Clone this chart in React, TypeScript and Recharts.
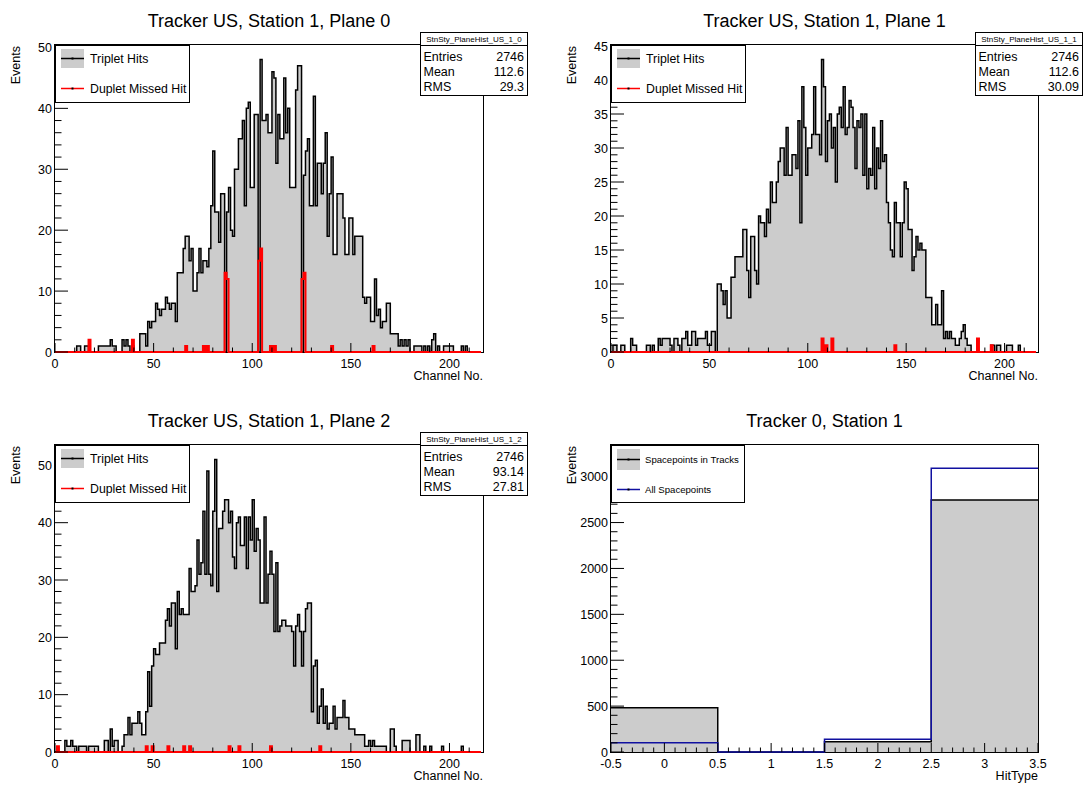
import React from "react";
import { ComposedChart, Area, Line, XAxis, YAxis } from "recharts";

const FONT = '"Liberation Sans", Arial, Helvetica, sans-serif';

// ---------------- DATA ----------------
// Channel numbers (bin low edges) 0..215
const N_CHANNELS = 216;
const CHANNEL_MAX = 217;

// Tracker US, Station 1, Plane 0 — triplet hits per channel
const PLANE0_TRIPLET = [
  0, 0, 0, 0, 0, 0, 0, 0, 0, 0,
  0, 1, 1, 0, 0, 1, 1, 0, 0, 0,
  0, 0, 1, 1, 1, 1, 1, 1, 2, 1,
  1, 0, 0, 0, 2, 1, 2, 1, 0, 1,
  0, 0, 0, 3, 3, 3, 1, 5, 4, 5,
  5, 8, 7, 6, 7, 7, 9, 8, 7, 8,
  8, 5, 13, 13, 13, 17, 19, 19, 15, 17,
  10, 10, 13, 17, 13, 15, 15, 14, 17, 24,
  33, 23, 23, 18, 26, 26, 0, 23, 27, 20,
  19, 30, 30, 35, 35, 38, 24, 40, 41, 27,
  27, 39, 39, 0, 48, 38, 38, 39, 36, 36,
  46, 45, 31, 39, 35, 35, 45, 36, 40, 27,
  27, 27, 43, 47, 47, 0, 29, 33, 35, 24,
  24, 42, 24, 31, 31, 26, 31, 36, 19, 26,
  32, 16, 16, 26, 26, 26, 22, 16, 16, 22,
  22, 16, 19, 19, 19, 19, 9, 8, 9, 9,
  5, 5, 12, 6, 7, 4, 5, 5, 8, 8,
  3, 3, 3, 3, 1, 2, 1, 2, 1, 2,
  0, 0, 1, 1, 1, 1, 0, 1, 0, 1,
  0, 2, 3, 0, 1, 0, 0, 1, 1, 1,
  1, 1, 0, 0, 0, 0, 1, 0, 1, 0,
  0, 0, 0, 0, 0, 0,
];
const PLANE0_DUPLET_CH = [17, 39, 66, 75, 77, 86, 87, 103, 104, 109, 111, 125, 126, 140, 161];
const PLANE0_DUPLET_N = [2, 2, 1, 1, 1, 13, 12, 15, 17, 1, 1, 12, 13, 1, 1];

// Tracker US, Station 1, Plane 1
const PLANE1_TRIPLET = [
  0, 1, 1, 0, 0, 1, 1, 0, 0, 0,
  2, 1, 1, 0, 0, 0, 0, 0, 1, 1,
  0, 1, 0, 0, 2, 1, 2, 2, 2, 2,
  1, 0, 2, 2, 1, 0, 2, 2, 3, 1,
  1, 3, 3, 1, 2, 2, 2, 2, 3, 1,
  1, 3, 3, 0, 10, 10, 9, 7, 9, 5,
  5, 11, 11, 14, 14, 14, 14, 18, 18, 12,
  8, 17, 17, 12, 10, 20, 19, 19, 17, 21,
  19, 25, 22, 22, 25, 28, 30, 30, 26, 33,
  26, 26, 29, 29, 27, 34, 19, 39, 33, 26,
  30, 30, 32, 39, 32, 32, 29, 43, 39, 28,
  34, 35, 30, 33, 25, 35, 36, 33, 39, 32,
  33, 37, 36, 33, 27, 34, 33, 35, 26, 35,
  24, 27, 26, 33, 24, 30, 27, 34, 28, 29,
  22, 19, 15, 14, 22, 19, 19, 14, 19, 25,
  24, 18, 18, 12, 14, 17, 15, 16, 15, 15,
  8, 8, 8, 4, 4, 7, 4, 4, 9, 2,
  3, 2, 3, 2, 2, 1, 1, 2, 3, 4,
  2, 1, 1, 0, 0, 0, 0, 0, 0, 0,
  0, 0, 0, 1, 1, 0, 1, 1, 0, 0,
  0, 1, 1, 1, 0, 0, 0, 1, 0, 0,
  0, 0, 0, 0, 0, 0,
];
const PLANE1_DUPLET_CH = [107, 109, 112, 144, 186, 193];
const PLANE1_DUPLET_N = [2, 1, 2, 1, 2, 1];

// Tracker US, Station 1, Plane 2
const PLANE2_TRIPLET = [
  0, 0, 0, 0, 0, 2, 1, 1, 2, 1,
  1, 0, 1, 1, 1, 1, 0, 1, 1, 1,
  1, 1, 0, 0, 0, 2, 2, 0, 4, 1,
  2, 2, 0, 0, 1, 3, 3, 6, 3, 5,
  5, 5, 7, 5, 3, 3, 7, 14, 8, 15,
  18, 17, 17, 19, 19, 19, 23, 25, 22, 26,
  26, 18, 28, 24, 25, 24, 24, 24, 32, 28,
  28, 29, 37, 31, 33, 42, 31, 49, 31, 29,
  42, 51, 28, 39, 39, 42, 44, 44, 40, 42,
  34, 32, 40, 41, 36, 36, 41, 32, 41, 37,
  44, 35, 39, 37, 26, 26, 41, 26, 31, 35,
  31, 21, 33, 21, 22, 23, 23, 22, 22, 22,
  21, 15, 22, 24, 21, 15, 21, 25, 26, 26,
  7, 15, 16, 5, 8, 11, 5, 8, 4, 5,
  5, 8, 4, 6, 6, 6, 9, 6, 6, 4,
  4, 4, 3, 3, 3, 3, 3, 1, 1, 2,
  1, 2, 1, 1, 1, 1, 1, 1, 0, 0,
  4, 4, 1, 0, 0, 0, 2, 2, 2, 2,
  0, 0, 0, 3, 3, 0, 0, 1, 0, 0,
  1, 0, 0, 0, 0, 0, 1, 0, 0, 0,
  0, 0, 0, 0, 0, 0, 1, 0, 0, 0,
  0, 0, 0, 0, 0, 0,
];
const PLANE2_DUPLET_CH = [1, 46, 49, 57, 65, 68, 88, 93, 109, 134];
const PLANE2_DUPLET_N = [1, 1, 1, 1, 1, 1, 1, 1, 1, 1];

// Tracker 0, Station 1 — HitType histogram (bins centred on 0,1,2,3)
const HITTYPE_EDGES = [-0.5, 0.5, 1.5, 2.5];
const HITTYPE_UPPER = 3.5;
const SP_IN_TRACKS = [483, 0, 113, 2747];
const SP_ALL = [102, 0, 138, 3091];

// stats boxes
const STATS_NAMES = ["StnSty_PlaneHist_US_1_0", "StnSty_PlaneHist_US_1_1", "StnSty_PlaneHist_US_1_2"];
const STATS_ENTRIES = ["2746", "2746", "2746"];
const STATS_MEAN = ["112.6", "112.6", "93.14"];
const STATS_RMS = ["29.3", "30.09", "27.81"];
const TITLES = [
  "Tracker US, Station 1, Plane 0",
  "Tracker US, Station 1, Plane 1",
  "Tracker US, Station 1, Plane 2",
  "Tracker 0, Station 1",
];

// ticks
const CH_TICKS_MAJOR = [0, 50, 100, 150, 200];
const CH_TICKS_ALL = [0, 10, 20, 30, 40, 50, 60, 70, 80, 90, 100, 110, 120, 130, 140, 150, 160, 170, 180, 190, 200, 210];
const Y0_MAJOR = [0, 10, 20, 30, 40, 50];
const Y1_MAJOR = [0, 5, 10, 15, 20, 25, 30, 35, 40, 45];
const Y2_MAJOR = [0, 10, 20, 30, 40, 50];
const HT_X_MAJOR = [-0.5, 0, 0.5, 1, 1.5, 2, 2.5, 3, 3.5];
const HT_Y_MAJOR = [0, 500, 1000, 1500, 2000, 2500, 3000];

function steps(from: number, to: number, step: number, scale = 1): number[] {
  const out: number[] = [];
  for (let i = Math.round(from * scale); i <= Math.round(to * scale); i += Math.round(step * scale)) out.push(i / scale);
  return out;
}
const Y0_ALL = steps(0, 50, 2);
const Y1_ALL = steps(0, 45, 1);
const Y2_ALL = steps(0, 52, 2);
const HT_X_ALL = steps(-0.5, 3.5, 0.1, 10);
const HT_Y_ALL = steps(0, 3300, 100);

// ---------------- helpers ----------------
function sparseToFull(ch: number[], n: number[]): number[] {
  const out = new Array(N_CHANNELS).fill(0);
  ch.forEach((c, i) => {
    out[c] = n[i];
  });
  return out;
}

function buildRows(edges: number[], upper: number, series: Record<string, number[]>) {
  const rows: any[] = edges.map((x, i) => {
    const r: any = { x };
    for (const k of Object.keys(series)) r[k] = series[k][i];
    return r;
  });
  const last: any = { x: upper };
  for (const k of Object.keys(series)) last[k] = series[k][series[k].length - 1];
  rows.push(last);
  return rows;
}

const CH_EDGES = PLANE0_TRIPLET.map((_, i) => i);
const ROWS_P0 = buildRows(CH_EDGES, N_CHANNELS, { t: PLANE0_TRIPLET, d: sparseToFull(PLANE0_DUPLET_CH, PLANE0_DUPLET_N) });
const ROWS_P1 = buildRows(CH_EDGES, N_CHANNELS, { t: PLANE1_TRIPLET, d: sparseToFull(PLANE1_DUPLET_CH, PLANE1_DUPLET_N) });
const ROWS_P2 = buildRows(CH_EDGES, N_CHANNELS, { t: PLANE2_TRIPLET, d: sparseToFull(PLANE2_DUPLET_CH, PLANE2_DUPLET_N) });
const ROWS_HT = buildRows(HITTYPE_EDGES, HITTYPE_UPPER, { t: SP_IN_TRACKS, a: SP_ALL });

const isMajor = (v: number, majors: number[]) => majors.some((m) => Math.abs(m - v) < 1e-6);
const fmtNum = (v: number) => String(Number(v.toFixed(2)));

function makeXTick(majors: number[]) {
  return (props: any) => {
    const { x, y, payload } = props;
    const v = payload.value;
    const major = isMajor(v, majors);
    return (
      <g>
        <line x1={x} x2={x} y1={y} y2={y - (major ? 9 : 4.5)} stroke="#000" strokeWidth={1} />
        {major && (
          <text x={x} y={y + 15.5} textAnchor="middle" fontSize={12.5} fontFamily={FONT} fill="#000">
            {fmtNum(v)}
          </text>
        )}
      </g>
    );
  };
}

function makeYTick(majors: number[]) {
  return (props: any) => {
    const { x, y, payload } = props;
    const v = payload.value;
    const major = isMajor(v, majors);
    return (
      <g>
        <line x1={x} x2={x + (major ? 13 : 6.5)} y1={y} y2={y} stroke="#000" strokeWidth={1} />
        {major && (
          <text x={x - 3} y={y} dy="0.36em" textAnchor="end" fontSize={12.5} fontFamily={FONT} fill="#000">
            {fmtNum(v)}
          </text>
        )}
      </g>
    );
  };
}

const AX_L = 45;
const AX_B = 30;
const PAD_T = 10;
const PAD_R = 10;

type Panel = { L: number; T: number; W: number; H: number };
const PANELS: Panel[] = [
  { L: 55, T: 45, W: 428, H: 307 },
  { L: 611, T: 45, W: 427, H: 307 },
  { L: 55, T: 445, W: 428, H: 307 },
  { L: 611, T: 445, W: 427, H: 307 },
];

function ChartBox(props: {
  p: Panel;
  rows: any[];
  xDomain: [number, number];
  yDomain: [number, number];
  xTicks: number[];
  xMajors: number[];
  yTicks: number[];
  yMajors: number[];
  children: React.ReactNode;
}) {
  const { p } = props;
  return (
    <div style={{ position: "absolute", left: p.L - AX_L, top: p.T - PAD_T, zIndex: 1 }}>
      <ComposedChart
        width={p.W + AX_L + PAD_R}
        height={p.H + PAD_T + AX_B}
        data={props.rows}
        margin={{ top: PAD_T, right: PAD_R, left: 0, bottom: 0 }}
      >
        <XAxis
          dataKey="x"
          type="number"
          domain={props.xDomain}
          ticks={props.xTicks}
          interval={0}
          tickSize={0}
          tickMargin={0}
          tickLine={false}
          axisLine={false}
          height={AX_B}
          tick={makeXTick(props.xMajors)}
        />
        <YAxis
          type="number"
          domain={props.yDomain}
          ticks={props.yTicks}
          interval={0}
          tickSize={0}
          tickMargin={0}
          tickLine={false}
          axisLine={false}
          width={AX_L}
          tick={makeYTick(props.yMajors)}
        />
        {props.children}
      </ComposedChart>
    </div>
  );
}

function StatsBox({ x, y, i }: { x: number; y: number; i: number }) {
  const w = 107;
  const h = 63;
  const rows: [string, string][] = [
    ["Entries", STATS_ENTRIES[i]],
    ["Mean", STATS_MEAN[i]],
    ["RMS", STATS_RMS[i]],
  ];
  return (
    <g>
      <rect x={x + 0.5} y={y + 0.5} width={w} height={h} fill="#fff" stroke="#000" strokeWidth={1} />
      <line x1={x} x2={x + w + 1} y1={y + 13.5} y2={y + 13.5} stroke="#000" strokeWidth={1} />
      <text x={x + w / 2 + 0.5} y={y + 10} textAnchor="middle" fontSize={8} fontFamily={FONT} fill="#000">
        {STATS_NAMES[i]}
      </text>
      {rows.map((r, k) => (
        <g key={k}>
          <text x={x + 3.5} y={y + 28.5 + k * 15.3} fontSize={12.5} fontFamily={FONT} fill="#000">
            {r[0]}
          </text>
          <text x={x + w - 3} y={y + 28.5 + k * 15.3} textAnchor="end" fontSize={12.5} fontFamily={FONT} fill="#000">
            {r[1]}
          </text>
        </g>
      ))}
    </g>
  );
}

function HitLegend({ x, y }: { x: number; y: number }) {
  return (
    <g>
      <rect x={x + 0.5} y={y + 0.5} width={134} height={57} fill="#fff" stroke="#000" strokeWidth={1} />
      <rect x={x + 6} y={y + 4} width={23} height={19} fill="#cccccc" />
      <line x1={x + 6} x2={x + 29} y1={y + 13.5} y2={y + 13.5} stroke="#000" strokeWidth={1.5} />
      <rect x={x + 16.5} y={y + 12.5} width={2} height={2} fill="#000" />
      <text x={x + 35} y={y + 17.5} fontSize={12.3} fontFamily={FONT} fill="#000">
        Triplet Hits
      </text>
      <line x1={x + 6} x2={x + 29} y1={y + 43.5} y2={y + 43.5} stroke="#ff0000" strokeWidth={1.5} />
      <rect x={x + 16.5} y={y + 42.5} width={2} height={2} fill="#000" />
      <text x={x + 35} y={y + 47.5} fontSize={12.3} fontFamily={FONT} fill="#000">
        Duplet Missed Hit
      </text>
    </g>
  );
}

function SpLegend({ x, y }: { x: number; y: number }) {
  return (
    <g>
      <rect x={x + 0.5} y={y + 0.5} width={133} height={57} fill="#fff" stroke="#000" strokeWidth={1} />
      <rect x={x + 6} y={y + 4} width={23} height={21} fill="#cccccc" />
      <line x1={x + 6} x2={x + 29} y1={y + 14.5} y2={y + 14.5} stroke="#000" strokeWidth={1.5} />
      <rect x={x + 16.5} y={y + 13.5} width={2} height={2} fill="#000" />
      <text x={x + 34} y={y + 18} fontSize={9.6} fontFamily={FONT} fill="#000">
        Spacepoints in Tracks
      </text>
      <line x1={x + 6} x2={x + 29} y1={y + 44.5} y2={y + 44.5} stroke="#1010a0" strokeWidth={1.5} />
      <rect x={x + 16.5} y={y + 43.5} width={2} height={2} fill="#000" />
      <text x={x + 34} y={y + 48} fontSize={9.6} fontFamily={FONT} fill="#000">
        All Spacepoints
      </text>
    </g>
  );
}

export default function App() {
  const [p0, p1, p2, p3] = PANELS;
  const histChildren = (key: string) => [
    <Area
      key={key + "t"}
      type="stepAfter"
      dataKey="t"
      stroke="#000"
      strokeWidth={1.5}
      fill="#cccccc"
      fillOpacity={1}
      dot={false}
      activeDot={false}
      isAnimationActive={false}
    />,
    <Line
      key={key + "d"}
      type="stepAfter"
      dataKey="d"
      stroke="#ff0000"
      strokeWidth={2}
      dot={false}
      activeDot={false}
      isAnimationActive={false}
    />,
  ];

  return (
    <div style={{ position: "absolute", left: 0, top: 0, width: 1087, height: 785, background: "#fff", overflow: "hidden" }}>
      {/* frames underneath */}
      <svg width={1087} height={785} style={{ position: "absolute", left: 0, top: 0, zIndex: 0 }}>
        {PANELS.map((p, i) => (
          <rect key={i} x={p.L - 0.5} y={p.T - 0.5} width={p.W + 1} height={p.H + 1} fill="none" stroke="#000" strokeWidth={1} />
        ))}
      </svg>

      <ChartBox p={p0} rows={ROWS_P0} xDomain={[0, CHANNEL_MAX]} yDomain={[0, 50.4]} xTicks={CH_TICKS_ALL} xMajors={CH_TICKS_MAJOR} yTicks={Y0_ALL} yMajors={Y0_MAJOR}>
        {histChildren("p0")}
      </ChartBox>
      <ChartBox p={p1} rows={ROWS_P1} xDomain={[0, CHANNEL_MAX]} yDomain={[0, 45.15]} xTicks={CH_TICKS_ALL} xMajors={CH_TICKS_MAJOR} yTicks={Y1_ALL} yMajors={Y1_MAJOR}>
        {histChildren("p1")}
      </ChartBox>
      <ChartBox p={p2} rows={ROWS_P2} xDomain={[0, CHANNEL_MAX]} yDomain={[0, 53.55]} xTicks={CH_TICKS_ALL} xMajors={CH_TICKS_MAJOR} yTicks={Y2_ALL} yMajors={Y2_MAJOR}>
        {histChildren("p2")}
      </ChartBox>
      <ChartBox p={p3} rows={ROWS_HT} xDomain={[-0.5, 3.5]} yDomain={[0, 3345]} xTicks={HT_X_ALL} xMajors={HT_X_MAJOR} yTicks={HT_Y_ALL} yMajors={HT_Y_MAJOR}>
        <Area
          type="stepAfter"
          dataKey="t"
          stroke="#000"
          strokeWidth={1.5}
          fill="#cccccc"
          fillOpacity={1}
          dot={false}
          activeDot={false}
          isAnimationActive={false}
        />
        <Line
          type="stepAfter"
          dataKey="a"
          stroke="#1010a0"
          strokeWidth={1.5}
          dot={false}
          activeDot={false}
          isAnimationActive={false}
        />
      </ChartBox>

      {/* texts and boxes on top */}
      <svg width={1087} height={785} style={{ position: "absolute", left: 0, top: 0, zIndex: 2, pointerEvents: "none" }}>
        {PANELS.map((p, i) => (
          <g key={i}>
            <text x={p.L + p.W / 2} y={p.T - 18} textAnchor="middle" fontSize={18} fontFamily={FONT} fill="#000">
              {TITLES[i]}
            </text>
            <text
              transform={`translate(${p.L - 35.5},${p.T + 1}) rotate(-90)`}
              textAnchor="end"
              fontSize={12.5}
              fontFamily={FONT}
              fill="#000"
            >
              Events
            </text>
            <text x={p.L + p.W} y={p.T + p.H + 27.5} textAnchor="end" fontSize={12.5} fontFamily={FONT} fill="#000">
              {i === 3 ? "HitType" : "Channel No."}
            </text>
          </g>
        ))}
        <HitLegend x={55} y={45} />
        <HitLegend x={611} y={45} />
        <HitLegend x={55} y={445} />
        <SpLegend x={611} y={445} />
        <StatsBox x={420} y={32} i={0} />
        <StatsBox x={975} y={32} i={1} />
        <StatsBox x={420} y={432} i={2} />
      </svg>
    </div>
  );
}
